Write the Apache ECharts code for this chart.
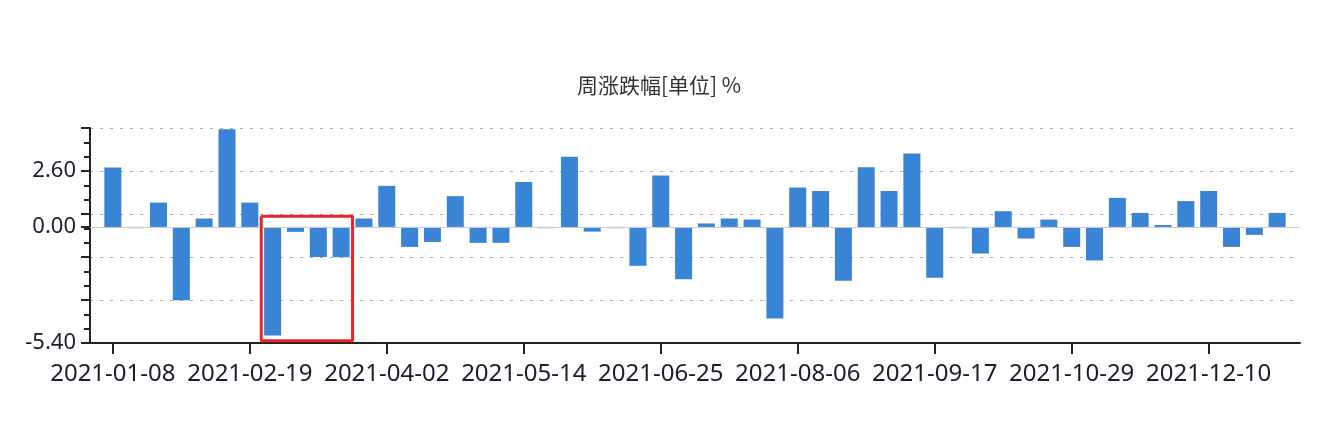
<!DOCTYPE html>
<html>
<head>
<meta charset="utf-8">
<script src="https://cdn.jsdelivr.net/npm/echarts@6/dist/echarts.min.js"></script>
<style>
  html, body { margin: 0; padding: 0; background: #fff; }
  #main { width: 1318px; height: 432px; }
</style>
</head>
<body>
<div id="main"></div>
<script>
    // 周线日期（每周五）
    var weeks = [
        '2021-01-08','2021-01-15','2021-01-22','2021-01-29','2021-02-05','2021-02-12',
        '2021-02-19','2021-02-26','2021-03-05','2021-03-12','2021-03-19','2021-03-26',
        '2021-04-02','2021-04-09','2021-04-16','2021-04-23','2021-04-30','2021-05-07',
        '2021-05-14','2021-05-21','2021-05-28','2021-06-04','2021-06-11','2021-06-18',
        '2021-06-25','2021-07-02','2021-07-09','2021-07-16','2021-07-23','2021-07-30',
        '2021-08-06','2021-08-13','2021-08-20','2021-08-27','2021-09-03','2021-09-10',
        '2021-09-17','2021-09-24','2021-10-01','2021-10-08','2021-10-15','2021-10-22',
        '2021-10-29','2021-11-05','2021-11-12','2021-11-19','2021-11-26','2021-12-03',
        '2021-12-10','2021-12-17','2021-12-24','2021-12-31'
    ];

    // 周涨跌幅 %
    var weekChange = [
        2.76, -0.06, 1.13, -3.41, 0.39, 4.54,
        1.13, -5.05, -0.23, -1.40, -1.41, 0.39,
        1.91, -0.93, -0.70, 1.43, -0.74, -0.74,
        2.09, -0.06, 3.26, -0.22, -0.06, -1.81,
        2.39, -2.43, 0.16, 0.39, 0.34, -4.26,
        1.83, 1.67, -2.51, 2.78, 1.67, 3.41,
        -2.36, -0.06, -1.24, 0.73, -0.54, 0.34,
        -0.93, -1.56, 1.35, 0.65, 0.09, 1.20,
        1.67, -0.93, -0.37, 0.65
    ];

    // y轴刻度
    var yLabelValues = [-5.4, 0, 2.6];
    var yTickValues = [-5.4, -3.4, -1.4, 0, 0.6, 2.6, 4.6];

    // 红框标注（类目序号, 数值）
    var boxCorners = [[7.5, 0.5], [11.5, 0.5], [11.5, -5.3], [7.5, -5.3], [7.5, 0.5]];

    // 两端各留一个空类目
    var cats = [''].concat(weeks, ['']);
    var barData = [null].concat(weekChange, [null]);

    var chart = echarts.init(document.getElementById('main'));
    var font = 'Noto Sans, Noto Sans CJK SC, sans-serif';

    chart.setOption({
        animation: false,
        title: {
            text: '周涨跌幅[单位] %',
            left: 'center',
            top: 70,
            textStyle: { fontSize: 21, fontWeight: 'normal', color: '#333', fontFamily: 'Noto Sans CJK SC' }
        },
        grid: { left: 90, right: 18, top: 128, bottom: 89 },
        xAxis: [{
            type: 'category',
            data: cats,
            boundaryGap: false,
            axisLine: { onZero: false, lineStyle: { color: '#222', width: 2 } },
            axisTick: {
                length: 11,
                lineStyle: { color: '#222', width: 2 },
                interval: function (i) { return i % 6 === 1; }
            },
            axisLabel: {
                interval: function (i) { return i % 6 === 1; },
                fontSize: 24, color: '#1c1c2c', fontFamily: font, margin: 19
            },
            splitLine: { show: false }
        }, {
            type: 'value',
            min: 0,
            max: cats.length - 1,
            show: false
        }],
        yAxis: {
            type: 'value',
            min: -5.4,
            max: 4.6,
            interval: 2,
            axisLine: { show: true, lineStyle: { color: '#222', width: 2 } },
            axisTick: {
                show: true,
                length: 9,
                customValues: yTickValues,
                lineStyle: { color: '#222', width: 2 }
            },
            minorTick: { show: true, splitNumber: 3, length: 6, lineStyle: { color: '#222', width: 2 } },
            axisLabel: {
                customValues: yLabelValues,
                formatter: function (v) { return v.toFixed(2); },
                fontSize: 22, color: '#1c1c2c', fontFamily: font, margin: 14
            },
            splitLine: { show: true, lineStyle: { color: '#aaa', width: 1, type: [3, 7] } }
        },
        series: [{
            type: 'bar',
            data: barData,
            barWidth: 17,
            itemStyle: { color: '#3a84d6' },
            markLine: {
                silent: true,
                symbol: 'none',
                label: { show: false },
                lineStyle: { color: '#ccc', width: 1, type: 'solid' },
                data: [{ yAxis: 0 }]
            }
        }, {
            type: 'line',
            xAxisIndex: 1,
            data: boxCorners,
            symbol: 'none',
            silent: true,
            lineStyle: { color: '#e8262a', width: 3 },
            z: 5
        }]
    });
</script>
</body>
</html>
